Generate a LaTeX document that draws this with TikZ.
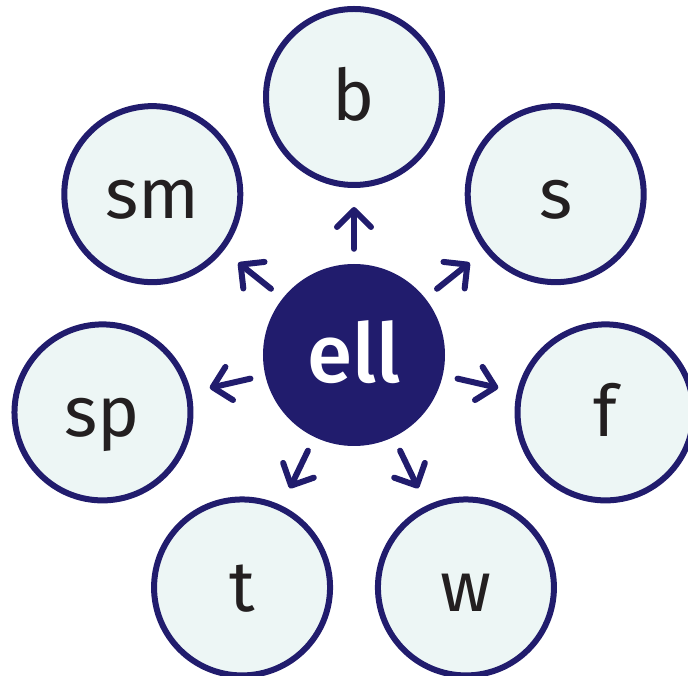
\documentclass[tikz,border=0pt]{standalone}
\usepackage{fontspec}
\setmainfont{Fira Sans}
\newfontfamily\midfont{Fira Sans Medium}
\usetikzlibrary{arrows.meta}
\definecolor{ellnavy}{HTML}{211C6D}
\definecolor{ellpale}{HTML}{EDF6F5}
\definecolor{elltext}{HTML}{231F20}

\begin{document}
\begin{tikzpicture}[x=1pt,y=1pt]
    % `hub' is the filled circle in the middle.
    % `leaf' is used for the seven circles around it.
    % `spoke' is used for the short arrows between them.
    \tikzstyle{hub} = [circle,fill=ellnavy,text=white,minimum size=182pt,inner sep=0pt,text height=56pt,text depth=0pt,font=\midfont\fontsize{82}{90}\selectfont]
    \tikzstyle{leaf} = [circle,draw=ellnavy,fill=ellpale,line width=6pt,minimum size=176pt,inner sep=0pt,text=elltext,text height=48pt,text depth=0pt,font=\fontsize{71}{80}\selectfont]
    \tikzstyle{spoke} = [ellnavy,line width=6pt,line cap=round,-{Straight Barb[length=17pt,width=34pt,round]},shorten <=15pt,shorten >=19pt]
    %
    \useasboundingbox (-354,-321) rectangle (334,355);
    \node[hub] (ell) at (0,0) {ell};
    % Leaves, clockwise from the top.
    \foreach \name [count=\i from 0] in {b,s,f,w,t,sp,sm} {
        \node[leaf] (\name) at ({90-\i*360/7}:258) {\name};
        \draw[spoke] (ell) -- (\name);
    }
\end{tikzpicture}
\end{document}
